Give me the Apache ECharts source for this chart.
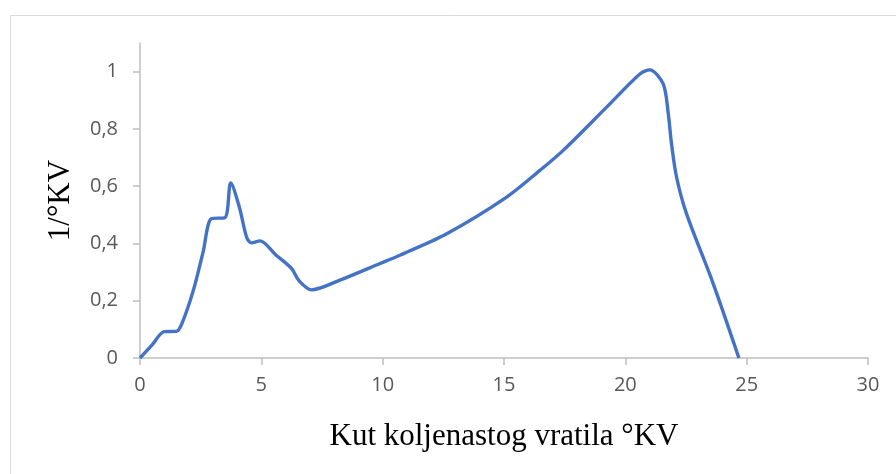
<!DOCTYPE html>
<html>
<head>
<meta charset="utf-8">
<title>1/°KV</title>
<script src="https://cdn.jsdelivr.net/npm/echarts@6/dist/echarts.min.js"></script>
<style>
  html, body { margin: 0; padding: 0; background: #ffffff; }
  #chart { width: 896px; height: 474px; }
</style>
</head>
<body>
<div id="chart"></div>
<script>
// Crank angle (°KV) and the corresponding 1/°KV values along the curve
const angle = [0, 0.5, 1.0, 1.5, 1.75, 2.2, 2.6, 2.95, 3.5, 3.74, 4.1, 4.4, 4.6, 4.94, 5.6, 6.25, 6.55, 7.07, 8.24, 9.89, 10.71, 12.64, 15.11, 16.48, 17.44, 19.23, 20.6, 21.01, 21.56, 21.77, 21.9, 22.11, 22.52, 23.62, 24.68];
const value = [0, 0.046, 0.092, 0.093, 0.125, 0.237, 0.37, 0.487, 0.49, 0.611, 0.525, 0.42, 0.402, 0.409, 0.36, 0.312, 0.27, 0.238, 0.272, 0.33, 0.359, 0.434, 0.562, 0.655, 0.725, 0.876, 0.992, 1.006, 0.957, 0.853, 0.75, 0.632, 0.504, 0.26, 0];

const xTicks = [0, 5, 10, 15, 20, 25, 30];
const yTicks = [0, 0.2, 0.4, 0.6, 0.8, 1];

const xTitle = 'Kut koljenastog vratila °KV';
const yTitle = '1/°KV';

const points = angle.map((a, i) => [a, value[i]]);

const axisGray = '#bfbfbf';
const labelGray = '#595959';

const chart = echarts.init(document.getElementById('chart'), null, { renderer: 'canvas' });

chart.setOption({
  animation: false,
  backgroundColor: '#ffffff',
  graphic: [{
    type: 'rect',
    left: 8,
    top: 13,
    shape: { width: 900, height: 470 },
    style: { fill: 'none', stroke: '#d9d9d9', lineWidth: 1 },
    silent: true
  }],
  grid: { left: 140, right: 28, top: 43, bottom: 116, containLabel: false },
  xAxis: {
    type: 'value',
    min: 0,
    max: 30,
    interval: 5,
    splitLine: { show: false },
    axisLine: { show: true, lineStyle: { color: axisGray, width: 1.5 } },
    axisTick: { show: true, length: 7, lineStyle: { color: axisGray, width: 1.5 }, customValues: xTicks },
    axisLabel: {
      customValues: xTicks,
      color: labelGray,
      fontFamily: 'Open Sans',
      fontSize: 20,
      margin: 17
    },
    name: xTitle,
    nameLocation: 'middle',
    nameGap: 63,
    nameTextStyle: { fontFamily: 'Liberation Serif', fontSize: 31, color: '#000000' }
  },
  yAxis: {
    type: 'value',
    min: 0,
    max: 1.1,
    interval: 0.2,
    splitLine: { show: false },
    axisLine: { show: true, lineStyle: { color: axisGray, width: 1.5 } },
    axisTick: { show: true, length: 7, lineStyle: { color: axisGray, width: 1.5 }, customValues: yTicks },
    axisLabel: {
      customValues: yTicks,
      color: labelGray,
      fontFamily: 'Open Sans',
      fontSize: 20,
      margin: 22,
      formatter: v => String(Math.round(v * 10) / 10).replace('.', ',')
    },
    name: yTitle,
    nameLocation: 'middle',
    nameRotate: 90,
    nameGap: 64,
    nameTextStyle: { fontFamily: 'Liberation Serif', fontSize: 31, color: '#000000' }
  },
  series: [{
    type: 'line',
    data: points,
    smooth: 0.3,
    showSymbol: false,
    symbol: 'none',
    lineStyle: { color: '#4472c4', width: 3.4 },
    clip: false
  }]
});
</script>
</body>
</html>
